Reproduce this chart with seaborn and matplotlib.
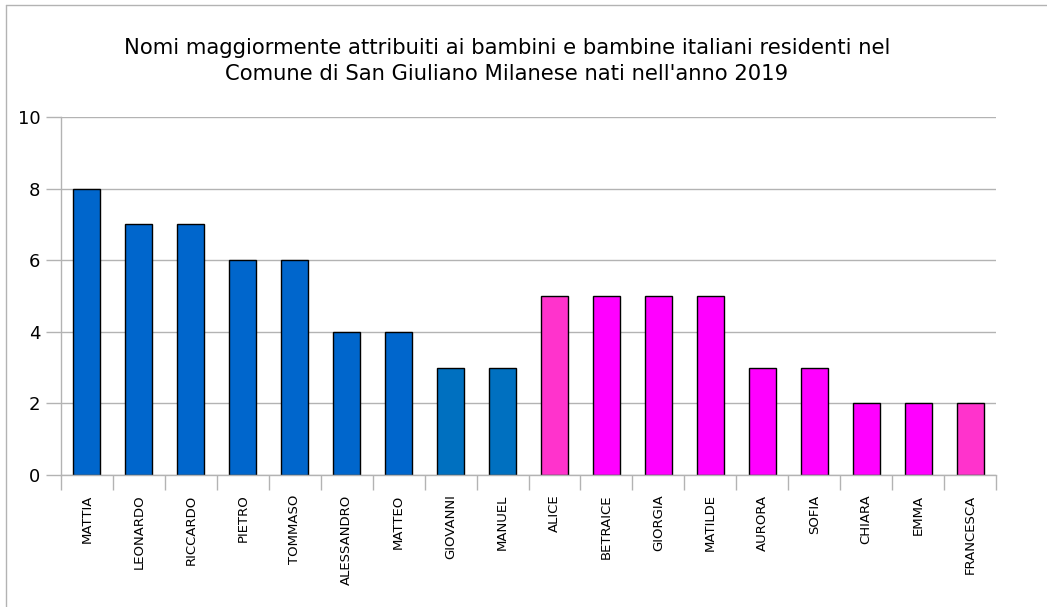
import matplotlib
matplotlib.use("Agg")
import matplotlib.pyplot as plt
import seaborn as sns
import pandas as pd

nomi = ["MATTIA", "LEONARDO", "RICCARDO", "PIETRO", "TOMMASO", "ALESSANDRO",
        "MATTEO", "GIOVANNI", "MANUEL", "ALICE", "BETRAICE", "GIORGIA",
        "MATILDE", "AURORA", "SOFIA", "CHIARA", "EMMA", "FRANCESCA"]
conteggi = [8, 7, 7, 6, 6, 4, 4, 3, 3, 5, 5, 5, 5, 3, 3, 2, 2, 2]
colori = ["#0066cc"] * 7 + ["#0070c0"] * 2 + ["#ff33cc"] + ["#ff00ff"] * 7 + ["#ff33cc"]

df = pd.DataFrame({"nome": nomi, "n": conteggi})

sns.set_style("white")
plt.rcParams["font.family"] = ["DejaVu Sans"]
plt.rcParams["text.color"] = "black"
plt.rcParams["xtick.color"] = "black"
plt.rcParams["ytick.color"] = "black"

fig = plt.figure(figsize=(10.47, 6.07), dpi=100)
ax = fig.add_axes([61 / 1047, 1 - 475 / 607, (996 - 61) / 1047, (475 - 117) / 607])

sns.barplot(data=df, x="nome", y="n", hue="nome", palette=colori, legend=False,
            width=0.52, edgecolor="black", linewidth=1, saturation=1, ax=ax)

ax.set_ylim(0, 10)
ax.set_xlim(-0.5, len(nomi) - 0.5)
ax.set_yticks(range(0, 11, 2))
ax.yaxis.grid(True, color="#b3b3b3", linewidth=1)
ax.set_axisbelow(True)
for s in ["top", "right"]:
    ax.spines[s].set_visible(False)
for s in ["left", "bottom"]:
    ax.spines[s].set_color("#b3b3b3")
    ax.spines[s].set_linewidth(1)

ax.set_xlabel("")
ax.set_ylabel("")
ax.tick_params(axis="y", which="major", left=True, direction="out", length=11, width=1,
               color="#b3b3b3", labelcolor="black", labelsize=13, pad=4)
ax.set_xticks(range(len(nomi)))
ax.set_xticklabels(nomi, rotation=90, fontsize=9.5)
ax.tick_params(axis="x", length=0, pad=14, labelcolor="black")
ax.set_xticks([i - 0.5 for i in range(len(nomi) + 1)], minor=True)
ax.tick_params(axis="x", which="minor", bottom=True, direction="out", length=11,
               color="#b3b3b3", width=1)

fig.text(0.484, 1 - 61 / 607,
         "Nomi maggiormente attribuiti ai bambini e bambine italiani residenti nel\n"
         "Comune di San Giuliano Milanese nati nell'anno 2019",
         ha="center", va="center", fontsize=15.2, linespacing=1.35)

fig.add_artist(plt.Line2D([6 / 1047, 6 / 1047], [0, 1 - 5 / 607],
                          transform=fig.transFigure, color="#b3b3b3", linewidth=1))
fig.add_artist(plt.Line2D([6 / 1047, 1], [1 - 5 / 607, 1 - 5 / 607],
                          transform=fig.transFigure, color="#b3b3b3", linewidth=1))

fig.savefig("out.png", dpi=100)
